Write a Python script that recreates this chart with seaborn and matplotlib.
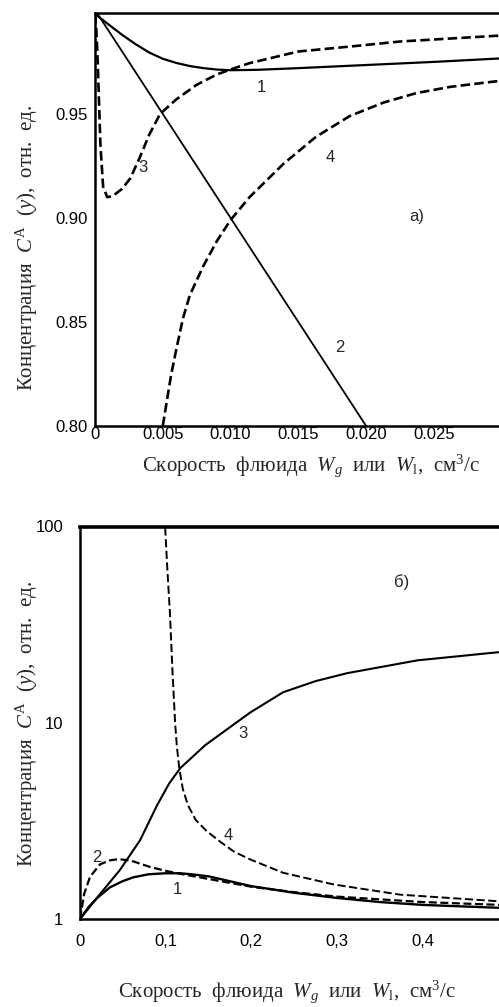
import matplotlib
matplotlib.use("Agg")
import matplotlib.pyplot as plt
import seaborn as sns
import pandas as pd

# ---------------- data: panel a) ----------------
a1_x = [0, 0.001, 0.002, 0.003, 0.004, 0.005, 0.006, 0.007, 0.008, 0.009, 0.010, 0.012, 0.015, 0.020, 0.025, 0.030]
a1_y = [0.998, 0.993, 0.988, 0.9835, 0.9795, 0.9765, 0.9745, 0.973, 0.972, 0.9713, 0.971, 0.9712, 0.9720, 0.9735, 0.975, 0.9767]
a2_x = [0, 0.020]
a2_y = [1.0, 0.80]
a3_x = [0, 0.0001, 0.0002, 0.0004, 0.0006, 0.0009, 0.0013, 0.002, 0.0026, 0.0033, 0.004, 0.0048, 0.006, 0.0075, 0.009, 0.0102, 0.0114, 0.015, 0.019, 0.0225, 0.030]
a3_y = [0.998, 0.99, 0.975, 0.935, 0.915, 0.910, 0.9105, 0.914, 0.919, 0.929, 0.940, 0.950, 0.957, 0.964, 0.969, 0.9718, 0.9744, 0.980, 0.9825, 0.9848, 0.9877]
a4_x = [0.005, 0.0053, 0.0056, 0.006, 0.0065, 0.007, 0.008, 0.009, 0.010, 0.0114, 0.0139, 0.0163, 0.0188, 0.0213, 0.0237, 0.0262, 0.030]
a4_y = [0.80, 0.812, 0.824, 0.837, 0.852, 0.863, 0.877, 0.889, 0.899, 0.910, 0.926, 0.939, 0.949, 0.9555, 0.960, 0.963, 0.966]
a_xticks = [0, 0.005, 0.010, 0.015, 0.020, 0.025]
a_xlabels = ["0", "0.005", "0.010", "0.015", "0.020", "0.025"]
a_yticks = [0.80, 0.85, 0.90, 0.95]
a_ylabels = ["0.80", "0.85", "0.90", "0.95"]

# ---------------- data: panel б) ----------------
b1_x = [0, 0.01, 0.02, 0.035, 0.05, 0.062, 0.08, 0.1, 0.117, 0.13, 0.15, 0.2, 0.25, 0.3, 0.35, 0.4, 0.49]
b1_y = [1.0, 1.15, 1.28, 1.45, 1.56, 1.63, 1.69, 1.71, 1.71, 1.69, 1.65, 1.47, 1.36, 1.28, 1.22, 1.18, 1.14]
b2_x = [0, 0.005, 0.0117, 0.0234, 0.035, 0.045, 0.06, 0.082, 0.1, 0.117, 0.15, 0.2, 0.25, 0.3, 0.4, 0.49]
b2_y = [1.0, 1.35, 1.64, 1.90, 1.99, 2.02, 1.98, 1.84, 1.76, 1.70, 1.60, 1.46, 1.37, 1.30, 1.22, 1.18]
b3_x = [0, 0.0234, 0.0467, 0.0701, 0.090, 0.104, 0.117, 0.146, 0.175, 0.199, 0.237, 0.275, 0.312, 0.394, 0.489]
b3_y = [1.0, 1.34, 1.78, 2.52, 3.80, 4.9, 5.87, 7.68, 9.49, 11.3, 14.3, 16.3, 17.9, 20.8, 22.9]
b4_x = [0.098, 0.0993, 0.102, 0.105, 0.108, 0.111, 0.113, 0.116, 0.12, 0.126, 0.135, 0.148, 0.165, 0.18, 0.2, 0.237, 0.296, 0.374, 0.49]
b4_y = [130, 100, 60, 36, 18, 10, 7.6, 5.8, 4.6, 3.8, 3.2, 2.8, 2.45, 2.2, 2.0, 1.72, 1.5, 1.33, 1.23]
b_xticks = [0, 0.1, 0.2, 0.3, 0.4]
b_xlabels = ["0", "0,1", "0,2", "0,3", "0,4"]
b_yticks = [1, 10, 100]
b_ylabels = ["1", "10", "100"]

xlabel_text = r"Скорость  флюида  $W_g$  или  $W_{\mathrm{l}}$,  см$^3$/с"
ylabel_text = r"Концентрация  $C^{\mathrm{A}}$  ($y$),  отн.  ед."

sns.set_theme(style="white")
plt.rcParams["font.family"] = ["Liberation Sans", "DejaVu Sans"]
plt.rcParams["mathtext.fontset"] = "custom"
plt.rcParams["mathtext.rm"] = "Liberation Serif"
plt.rcParams["mathtext.it"] = "Liberation Serif:italic"

W, H = 499, 1007
fig = plt.figure(figsize=(W / 100, H / 100), dpi=100)

def fx(px):
    return px / W

def fy(py):
    return 1 - py / H

ax1 = fig.add_axes([fx(95), fy(426), 1 - fx(95), fy(13) - fy(426)])
ax2 = fig.add_axes([fx(80), fy(919), 1 - fx(80), fy(526.5) - fy(919)])

dash_a = (0, (3.6, 1.6))
dash_b = (0, (4.2, 1.8))

def draw(ax, x, y, lw, ls):
    df = pd.DataFrame({"x": x, "y": y})
    sns.lineplot(data=df, x="x", y="y", ax=ax, color="black", linewidth=lw,
                 linestyle=ls, sort=False, estimator=None)

draw(ax1, a1_x, a1_y, 1.6, "-")
draw(ax1, a2_x, a2_y, 1.3, "-")
draw(ax1, a3_x, a3_y, 1.9, dash_a)
draw(ax1, a4_x, a4_y, 1.9, dash_a)

draw(ax2, b1_x, b1_y, 1.7, "-")
draw(ax2, b2_x, b2_y, 1.6, dash_a)
draw(ax2, b3_x, b3_y, 1.5, "-")
draw(ax2, b4_x, b4_y, 1.4, dash_b)

ax1.set_xlim(0, 0.0298)
ax1.set_ylim(0.80, 0.9985)
ax2.set_yscale("log")
ax2.set_xlim(0, 0.489)
ax2.set_ylim(1, 100)

for ax in (ax1, ax2):
    ax.set_xlabel("")
    ax.set_ylabel("")
    ax.spines["right"].set_visible(False)
    for s in ("left", "bottom", "top"):
        ax.spines[s].set_linewidth(1.8)
        ax.spines[s].set_color("black")
    ax.tick_params(direction="in", length=7, width=0.8, color="#555555",
                   labelsize=12, labelcolor="black")
    ax.minorticks_off()

ax1.set_xticks(a_xticks, a_xlabels)
ax1.set_yticks(a_yticks, a_ylabels)
ax1.tick_params(axis="x", pad=1)
ax1.tick_params(axis="y", pad=5)

ax2.set_xticks(b_xticks, b_xlabels)
ax2.set_yticks(b_yticks, b_ylabels)
ax2.yaxis.set_minor_locator(matplotlib.ticker.NullLocator())
ax2.tick_params(axis="x", pad=11)
ax2.tick_params(axis="y", pad=12)
ax2.spines["top"].set_linewidth(2.6)

def lab(px, py, s):
    fig.text(fx(px), fy(py), s, fontsize=12, ha="center", va="center")

lab(261, 88, "1")
lab(143, 167, "3")
lab(330, 157, "4")
lab(340, 347, "2")
lab(417, 217, "а)")

lab(243, 734, "3")
lab(228, 836, "4")
lab(97, 857, "2")
lab(177, 890, "1")
lab(402, 582, "б)")

fig.text(fx(311), fy(466), xlabel_text, fontsize=15, family="Liberation Serif",
         ha="center", va="center")
fig.text(fx(287), fy(992), xlabel_text, fontsize=15, family="Liberation Serif",
         ha="center", va="center")
fig.text(fx(27), fy(248), ylabel_text, fontsize=15, family="Liberation Serif",
         ha="center", va="center", rotation=90)
fig.text(fx(27), fy(724), ylabel_text, fontsize=15, family="Liberation Serif",
         ha="center", va="center", rotation=90)

fig.savefig("out.png", dpi=100)
